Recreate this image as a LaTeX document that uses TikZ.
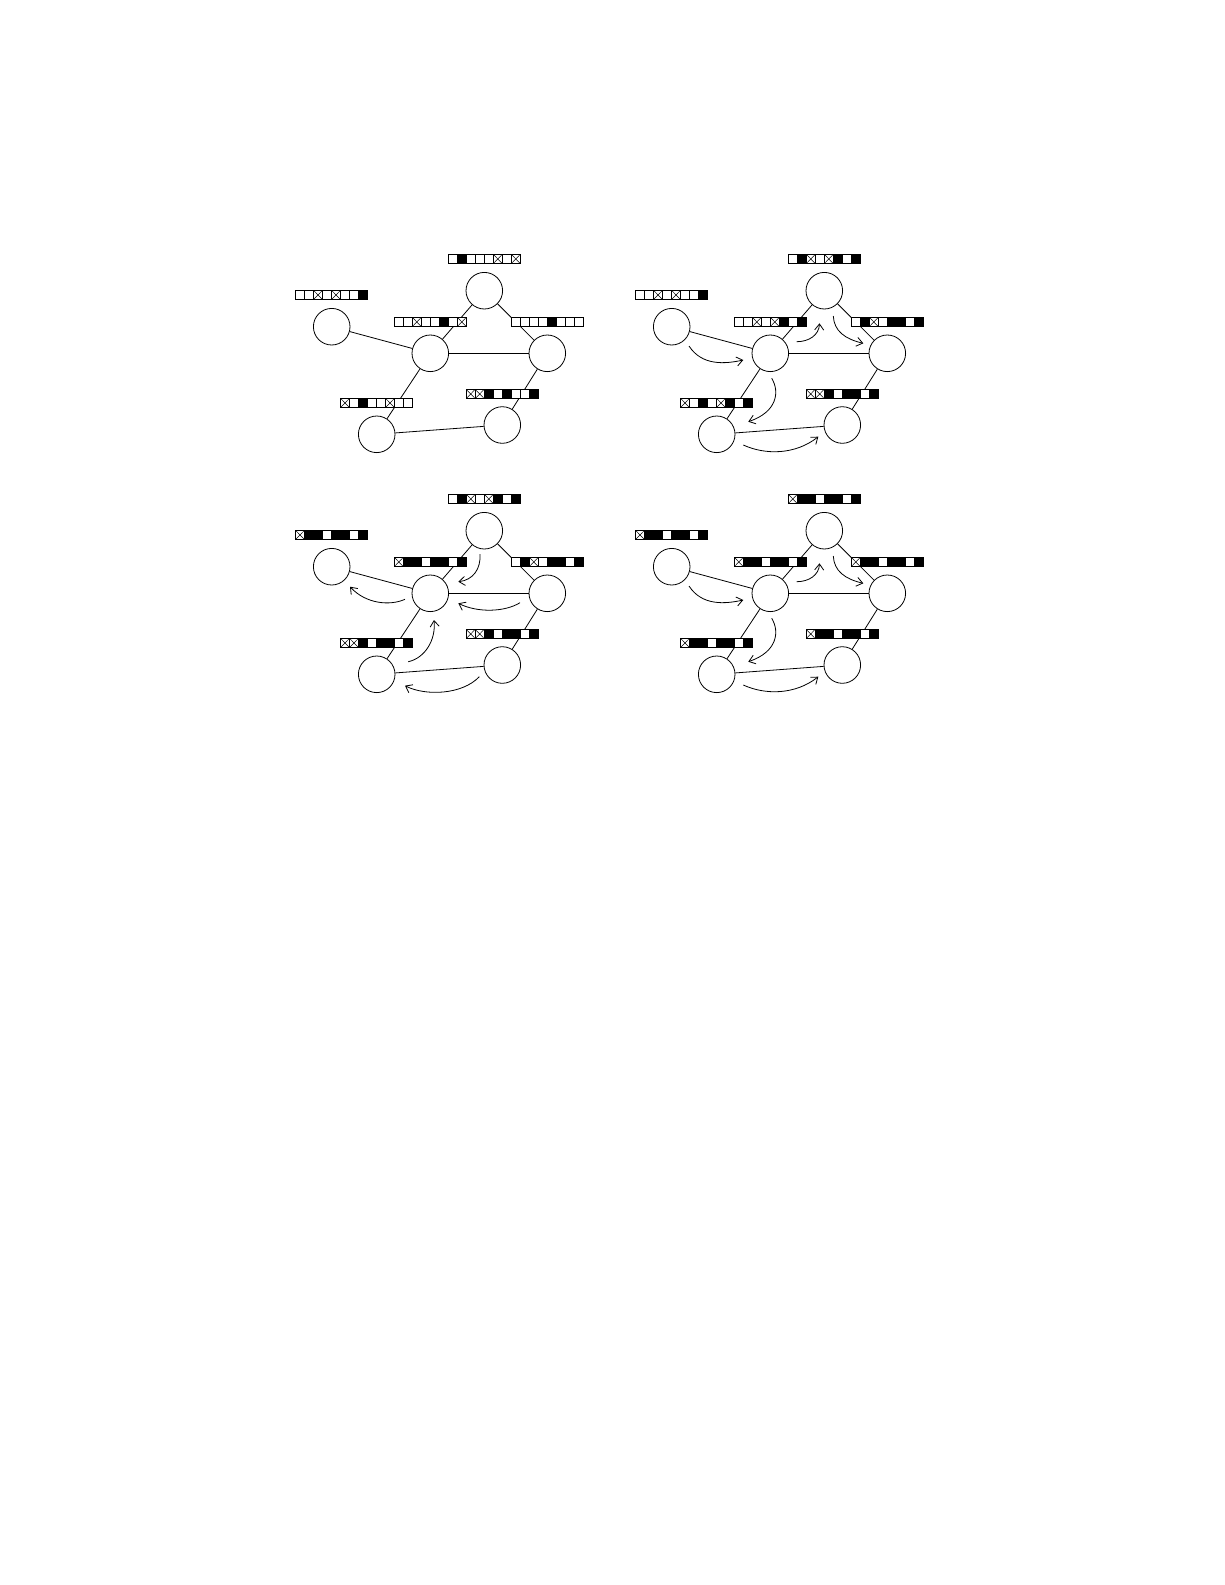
\documentclass[tikz,border=0pt]{standalone}
\usetikzlibrary{arrows.meta}
\tikzset{
  circ/.style={circle,draw,line width=0.8pt,minimum size=36.6pt,inner sep=0pt},
  edge/.style={line width=0.8pt},
  cellline/.style={line width=0.7pt},
  flow/.style={line width=0.8pt,-{Straight Barb[length=6pt,width=9pt]}},
}
\newcommand\bitrow[3]{%
  \foreach \bv [count=\bi from 0] in {#3}{%
    \pgfmathsetmacro\bx{#1+9*\bi}%
    \ifnum\bv=1 \fill[black] (\bx,#2) rectangle ++(9,9.3);\else \fill[white] (\bx,#2) rectangle ++(9,9.3);\fi
    \draw[cellline] (\bx,#2) rectangle ++(9,9.3);
    \ifnum\bv=2 \draw[line width=0.5pt] (\bx,#2) -- ++(9,9.3) ++(-9,0) -- ++(9,-9.3);\fi
  }}
\newcommand\panel[9]{%
  \begin{scope}[shift={(#2,#3)}]
    \node[circ] (T#1) at (484.3,290.7) {};
    \node[circ] (L#1) at (331.7,326.7) {};
    \node[circ] (M#1) at (430.3,353.3) {};
    \node[circ] (R#1) at (547.3,353.3) {};
    \node[circ] (BL#1) at (376.7,434.3) {};
    \node[circ] (BR#1) at (502.3,425) {};
    \draw[edge] (T#1) -- (M#1);
    \draw[edge] (T#1) -- (R#1);
    \draw[edge] (L#1) -- (M#1);
    \draw[edge] (M#1) -- (R#1);
    \draw[edge] (M#1) -- (BL#1);
    \draw[edge] (R#1) -- (BR#1);
    \draw[edge] (BL#1) -- (BR#1);
    \bitrow{448.3}{254.3}{#4}
    \bitrow{295.5}{290.3}{#5}
    \bitrow{394.3}{317.3}{#6}
    \bitrow{511.3}{317.3}{#7}
    \bitrow{340.5}{398.3}{#8}
    \bitrow{466.2}{389.3}{#9}
  \end{scope}}
\newcommand\sendflows[2]{%
  \begin{scope}[shift={(#1,#2)}]
    \draw[flow] (349,346) .. controls (362,366) and (385,364) .. (403.3,360);
    \draw[flow] (456.7,341.7) .. controls (469,341.7) and (479,335) .. (479.5,323.3);
    \draw[flow] (493.3,316) .. controls (494,331) and (505,339) .. (523.3,343.3);
    \draw[flow] (431.7,378.3) .. controls (440,392) and (437,412) .. (408.3,421.7);
    \draw[flow] (403.3,445) .. controls (425,455) and (455,455) .. (478.3,436.7);
  \end{scope}}
\newcommand\backflows[2]{%
  \begin{scope}[shift={(#1,#2)}]
    \draw[flow] (480,314) .. controls (481,329) and (473,340) .. (458.3,341.7);
    \draw[flow] (520,362.7) .. controls (505,372) and (478,373) .. (458.3,363.3);
    \draw[flow] (405,359.3) .. controls (390,366) and (366,364) .. (350,346.7);
    \draw[flow] (408.3,421.7) .. controls (425,418) and (436,400) .. (434,380);
    \draw[flow] (479.3,436.7) .. controls (462,455) and (425,456) .. (405,445.7);
  \end{scope}}
\begin{document}
\begin{tikzpicture}[x=1pt,y=-1pt]
  \useasboundingbox (0,0) rectangle (1225,1585);
  \fill[white] (0,0) rectangle (1225,1585);
  % panel 1
  \panel{a}{0}{0}{0,1,0,0,0,2,0,2}{0,0,2,0,2,0,0,1}{0,0,2,0,0,1,0,2}{0,0,0,0,1,0,0,0}{2,0,1,0,0,2,0,0}{2,2,1,0,1,0,0,1}
  % panel 2
  \panel{b}{340}{0}{0,1,2,0,2,1,0,1}{0,0,2,0,2,0,0,1}{0,0,2,0,2,1,0,1}{0,1,2,0,1,1,0,1}{2,0,1,0,2,1,0,1}{2,2,1,0,1,1,0,1}
  \sendflows{340}{0}
  % panel 3
  \panel{c}{0}{240}{0,1,2,0,2,1,0,1}{2,1,1,0,1,1,0,1}{2,1,1,0,1,1,0,1}{0,1,2,0,1,1,0,1}{2,2,1,0,1,1,0,1}{2,2,1,0,1,1,0,1}
  \backflows{0}{240}
  % panel 4
  \panel{d}{340}{240}{2,1,1,0,1,1,0,1}{2,1,1,0,1,1,0,1}{2,1,1,0,1,1,0,1}{2,1,1,0,1,1,0,1}{2,1,1,0,1,1,0,1}{2,1,1,0,1,1,0,1}
  \sendflows{340}{240}
\end{tikzpicture}
\end{document}
